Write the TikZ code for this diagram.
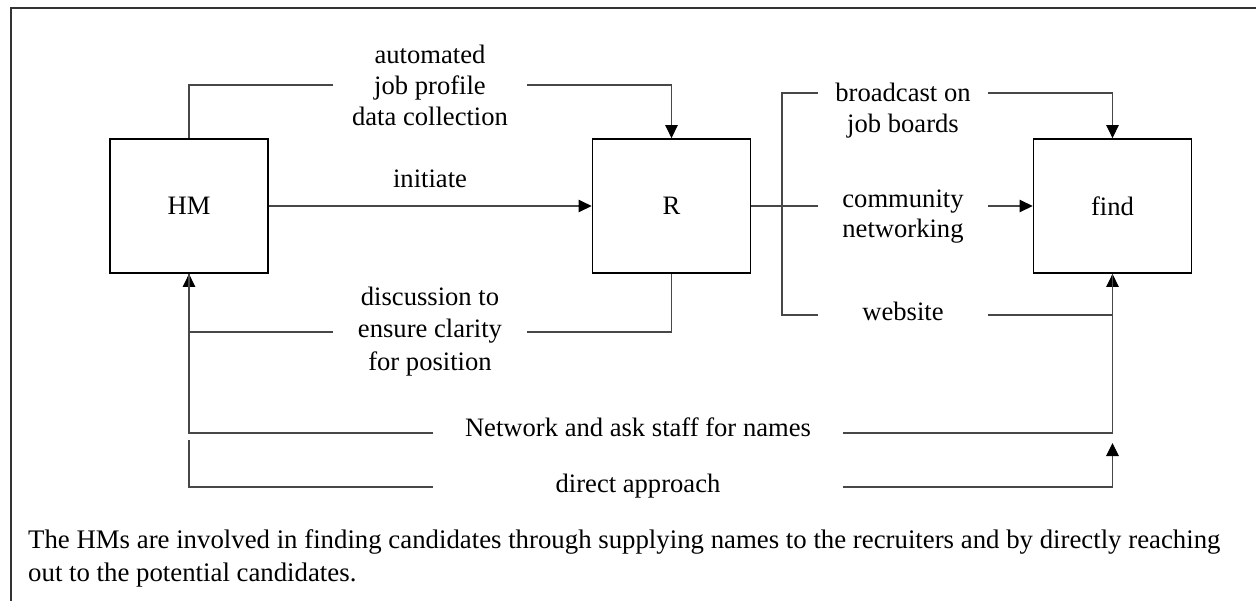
\documentclass[tikz,border=0pt]{standalone}
\usepackage{fontspec}
\setmainfont{Liberation Serif}
\usetikzlibrary{arrows.meta}
\begin{document}
\begin{tikzpicture}[x=1pt,y=-1pt,
  box/.style={draw=black,line width=1.8pt,minimum width=158pt,minimum height=134pt,
    inner sep=0pt,font=\fontsize{26.6}{31}\selectfont},
  lbl/.style={inner sep=0pt,align=center,anchor=base,font=\fontsize{26.6}{31}\selectfont},
  wire/.style={draw=black!72,line width=1.1pt},
  flow/.style={wire,-{Triangle[length=13pt,width=12.5pt,black]}},
]
\useasboundingbox (0,0) rectangle (1256,600);
% frame
\draw[black!80,line width=1.6pt] (11,620) -- (11,8) -- (1280,8);

% actors
\node[box] (HM) at (189,206) {HM};
\node[box] (R) at (671.5,206) {R};
\node[box] (find) at (1112.5,206) {find};

% labels (anchored at the baseline of their last line)
\node[lbl] (auto) at (430,125) {automated\\job profile\\data collection};
\node[lbl] (init) at (430,187) {initiate};
\node[lbl,font=\fontsize{26.6}{32.5}\selectfont] (disc) at (430,370) {discussion to\\ensure clarity\\for position};
\node[lbl] (bcast) at (903,132) {broadcast on\\job boards};
\node[lbl,font=\fontsize{26.6}{30}\selectfont] (comm) at (903,237) {community\\networking};
\node[lbl] (web) at (903,320) {website};
\node[lbl] (net) at (638,436) {Network and ask staff for names};
\node[lbl] (dir) at (638,492) {direct approach};

% wire ends beside the labels
\coordinate (a1) at (333,85);   \coordinate (a2) at (527,85);
\coordinate (d1) at (333,332);  \coordinate (d2) at (527,332);
\coordinate (j)  at (782,206);
\coordinate (b1) at (818,93);   \coordinate (b2) at (988,93);
\coordinate (c1) at (818,206);  \coordinate (c2) at (988,206);
\coordinate (w1) at (818,315);  \coordinate (w2) at (988,315);
\coordinate (n1) at (433,433);  \coordinate (n2) at (843,433);
\coordinate (p1) at (433,487);  \coordinate (p2) at (843,487);
\coordinate (hx) at (189,440);  \coordinate (fx) at (1112.5,443);

% HM -> R
\draw[wire] (HM.north) |- (a1);
\draw[flow] (a2) -| (R.north);
\draw[flow] (HM) -- (R);
\draw[wire] (R.south) |- (d2);
\draw[flow] (d1) -| (HM.south);

% R -> find
\draw[wire] (R.east) -- (j);
\draw[wire] (j) |- (b1);
\draw[wire] (j) -- (c1);
\draw[wire] (j) |- (w1);
\draw[flow] (b2) -| (find.north);
\draw[flow] (c2) -- (find.west);
\draw[flow] (w2) -| (find.south);

% HM -> find
\draw[wire] (n1) -| (HM.south);
\draw[wire] (n2) -| (find.south);
\draw[wire] (hx) |- (p1);
\draw[flow] (p2) -| (fx);

% caption
\node[inner sep=0pt,anchor=base west,align=left,font=\fontsize{26.8}{33}\selectfont] (cap) at (28,581)
  {The HMs are involved in finding candidates through supplying names to the recruiters and by directly reaching\\out to the potential candidates.};
\end{tikzpicture}
\end{document}
